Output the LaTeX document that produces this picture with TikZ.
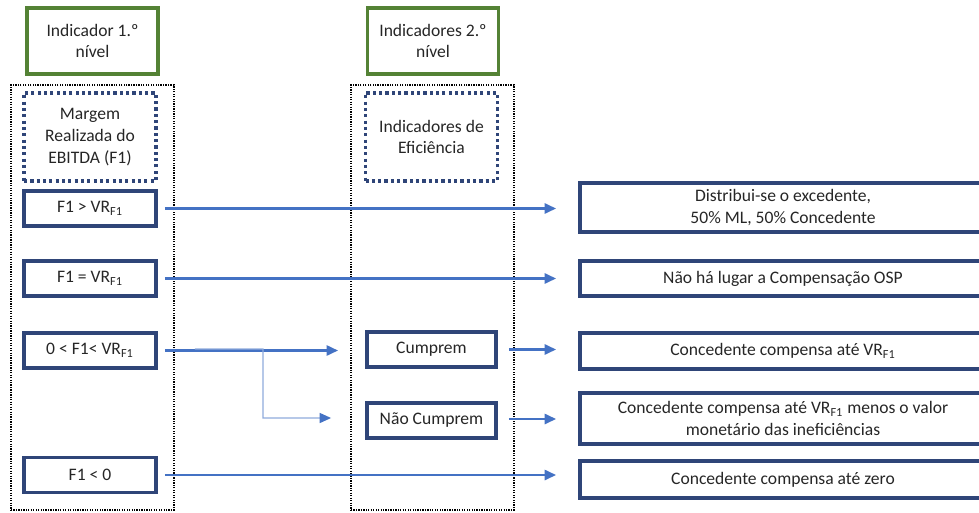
\documentclass[tikz,border=0pt]{standalone}
\usepackage{fontspec}
\setmainfont{Carlito}
\usetikzlibrary{arrows.meta}
\definecolor{boxblue}{RGB}{47,69,120}
\definecolor{levelgreen}{RGB}{84,130,53}
\definecolor{arrowblue}{RGB}{68,114,196}
\definecolor{branchblue}{RGB}{143,170,220}
\definecolor{textgray}{RGB}{38,38,38}
\tikzset{
  levelbox/.style={draw=levelgreen,line width=2.2pt,minimum width=2.62cm,minimum height=1.32cm,align=center},
  groupbox/.style={draw=boxblue,line width=2.2pt,dash pattern=on 1.8pt off 1.8pt,minimum width=2.64cm,minimum height=1.76cm,align=center},
  condbox/.style={draw=boxblue,line width=2.2pt,minimum width=2.64cm,minimum height=0.7cm},
  resultbox/.style={draw=boxblue,line width=2.2pt,minimum width=8.12cm,align=center},
  flow/.style={draw=arrowblue,line width=1.4pt,-{Triangle[length=6.5pt,width=5.7pt]}},
  branch/.style={draw=branchblue,line width=0.8pt,-{Triangle[length=6.5pt,width=5.7pt,color=arrowblue]}}
}

\begin{document}
\begin{tikzpicture}[x=0.02cm,y=-0.02cm,font=\fontsize{10}{12.3}\selectfont,text=textgray]
            \useasboundingbox (0,0) rectangle (979,513);
            \clip (0,0) rectangle (979,513);
            \begin{scope}[every node/.style={draw=black,line width=0.7pt,dash pattern=on 0.7pt off 0.7pt,minimum width=3.26cm,minimum height=8.5cm}]
                \node (col1) at (92.5,297.5) {};
                \node (col2) at (432.5,297.5) {};
            \end{scope}
            \node[levelbox] (lvl1) at (92.5,41) {Indicador 1.º\\nível};
            \node[levelbox] (lvl2) at (433,41) {Indicadores 2.º\\nível};
            \node[groupbox] (ebitda) at (90,137) {Margem\\Realizada do\\EBITDA (F1)};
            \node[groupbox] (efic) at (431.5,137) {Indicadores de\\Eficiência};
            \node[condbox] (f1gt) at (90,208.5) {F1 > VR\textsubscript{F1}};
            \node[condbox] (f1eq) at (90,278.5) {F1 = VR\textsubscript{F1}};
            \node[condbox] (f1mid) at (90,350.5) {0 < F1< VR\textsubscript{F1}};
            \node[condbox] (f1neg) at (90,475) {F1 < 0};
            \node[condbox,minimum width=2.58cm] (cumprem) at (431.5,349.5) {Cumprem};
            \node[condbox,minimum width=2.58cm] (naocumprem) at (431.5,420.5) {Não Cumprem};
            \node[resultbox,minimum height=0.98cm] (excedente) at (783,207.5) {Distribui-se o excedente,\\50\% ML, 50\% Concedente};
            \node[resultbox,minimum height=0.7cm] (semcomp) at (783,278.5) {Não há lugar a Compensação OSP};
            \node[resultbox,minimum height=0.72cm] (compvr) at (783,351) {Concedente compensa até VR\textsubscript{F1}};
            \node[resultbox,minimum height=1.02cm] (compmenos) at (783,418.5) {Concedente compensa até VR\textsubscript{F1} menos o valor\\monetário das ineficiências};
            \node[resultbox,minimum height=0.74cm] (compzero) at (783,479.5) {Concedente compensa até zero};
            \coordinate (split) at (263,349);
            \draw[flow,shorten <=0.14cm,shorten >=0.44cm] (f1gt.east) -- (f1gt.east -| excedente.west);
            \draw[flow,shorten <=0.14cm,shorten >=0.44cm] (f1eq.east) -- (f1eq.east -| semcomp.west);
            \draw[flow,shorten <=0.14cm,shorten >=0.54cm] (f1mid.east) -- (f1mid.east -| cumprem.west);
            \draw[branch,shorten >=0.68cm] ([xshift=0.74cm,yshift=0.03cm]f1mid.east) -- (split) |- ([yshift=0.05cm]naocumprem.west);
            \draw[flow,shorten <=0.22cm,shorten >=0.44cm] (cumprem.east) -- (cumprem.east -| compvr.west);
            \draw[flow,shorten <=0.22cm,shorten >=0.44cm] ([yshift=0.03cm]naocumprem.east) -- ([yshift=0.03cm]naocumprem.east -| compmenos.west);
            \draw[flow,shorten <=0.14cm,shorten >=0.44cm] (f1neg.east) -- (f1neg.east -| compzero.west);
        \end{tikzpicture}
\end{document}
